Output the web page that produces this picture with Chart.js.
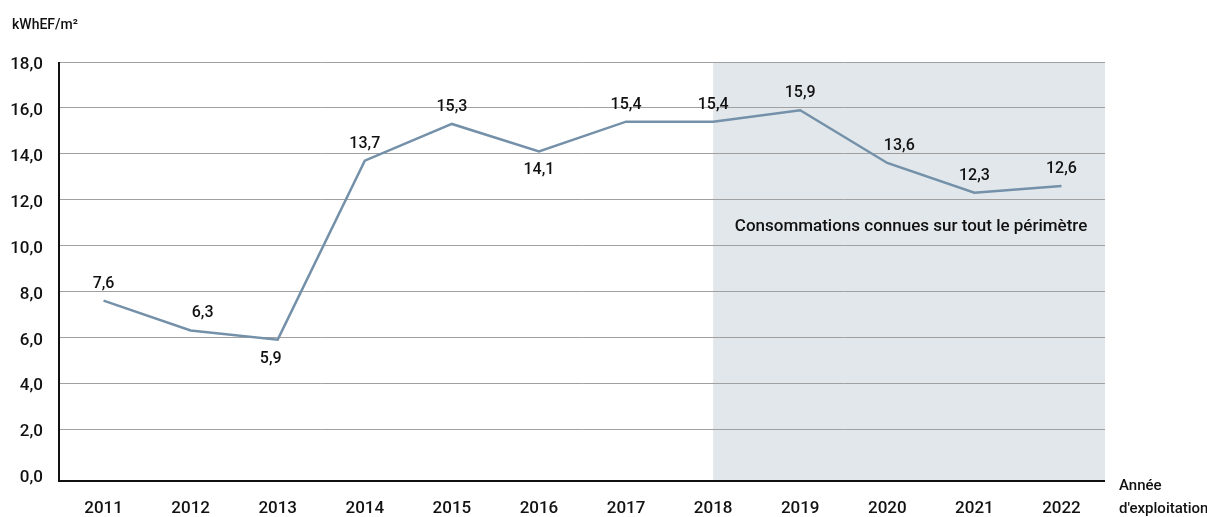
<!DOCTYPE html>
<html>
<head>
<meta charset="utf-8">
<script src="https://cdn.jsdelivr.net/npm/chart.js@4/dist/chart.umd.min.js"></script>
<style>
  html, body { margin: 0; padding: 0; background: #fff; }
  #wrap { width: 1207px; height: 517px; }
</style>
</head>
<body>
<div id="wrap"><canvas id="lineGraph"></canvas></div>
<script>
const years = ["2011", "2012", "2013", "2014", "2015", "2016", "2017", "2018", "2019", "2020", "2021", "2022"];
const consumption = [7.6, 6.3, 5.9, 13.7, 15.3, 14.1, 15.4, 15.4, 15.9, 13.6, 12.3, 12.6];
// these labels sit under the point
const labelBelow = ["2013", "2016"];
const shadeFrom = "2018";
const shadeText = "Consommations connues sur tout le périmètre";

const FONT = 'Roboto, "Liberation Sans", sans-serif';
const fmt = (v) => v.toFixed(1).replace(".", ",");

// little sideways nudges so labels clear the line
const nudge = { "2012": 12, "2013": -7, "2020": 12 };

const shadePlugin = {
  id: "shade",
  beforeDraw(chart) {
    const { ctx, chartArea, scales } = chart;
    const x0 = scales.x.getPixelForValue(years.indexOf(shadeFrom));
    const axisY = chartArea.bottom + 6;
    ctx.save();
    ctx.fillStyle = "#e1e7eb";
    ctx.fillRect(x0, chartArea.top, chartArea.right - x0, axisY - chartArea.top);
    ctx.fillStyle = "#111";
    ctx.font = "500 17px " + FONT;
    ctx.textAlign = "center";
    ctx.textBaseline = "middle";
    ctx.fillText(shadeText, (x0 + chartArea.right) / 2 + 2, scales.y.getPixelForValue(10.8));
    // unit and axis title
    ctx.font = "500 14px " + FONT;
    ctx.textAlign = "left";
    ctx.fillText("kWhEF/m²", 12, 25);
    ctx.font = "500 15px " + FONT;
    ctx.fillText("Année", 1119, 486);
    ctx.fillText("d'exploitation", 1119, 509);
    ctx.restore();
  },
  afterDatasetsDraw(chart) {
    // axis lines: the bottom one sits a few px under zero
    const { ctx, chartArea } = chart;
    const axisY = chartArea.bottom + 6;
    ctx.save();
    ctx.strokeStyle = "#111";
    ctx.lineWidth = 2;
    ctx.beginPath();
    ctx.moveTo(chartArea.left - 1, chartArea.top);
    ctx.lineTo(chartArea.left - 1, axisY);
    ctx.lineTo(chartArea.right, axisY);
    ctx.stroke();
    ctx.restore();
  },
};

const labelPlugin = {
  id: "pointLabels",
  afterDatasetsDraw(chart) {
    const { ctx } = chart;
    const meta = chart.getDatasetMeta(0);
    ctx.save();
    ctx.fillStyle = "#111";
    ctx.font = "500 16px " + FONT;
    ctx.textAlign = "center";
    ctx.textBaseline = "middle";
    meta.data.forEach((pt, i) => {
      const below = labelBelow.includes(years[i]);
      const dx = nudge[years[i]] || 0;
      ctx.fillText(fmt(consumption[i]), pt.x + dx, below ? pt.y + 19 : pt.y - 17);
    });
    ctx.restore();
  },
};

const lineGraph = document.getElementById("lineGraph").getContext("2d");
const myLineGraph = new Chart(lineGraph, {
  type: "line",
  data: {
    labels: years,
    datasets: [
      {
        data: consumption,
        borderColor: "#7491a9",
        borderWidth: 2.5,
        pointRadius: 0,
        tension: 0,
      },
    ],
  },
  options: {
    animation: false,
    maintainAspectRatio: false,
    responsive: true,
    layout: {
      padding: { top: 62, right: 102, left: 0, bottom: 0 },
    },
    plugins: {
      legend: { display: false },
      tooltip: { enabled: false },
    },
    scales: {
      x: {
        offset: true,
        afterFit: (s) => { s.height = 42; },
        grid: { display: false, drawTicks: false },
        border: { display: false },
        ticks: {
          color: "#111",
          padding: 24,
          font: { family: FONT, size: 17, weight: "500" },
        },
      },
      y: {
        min: 0,
        max: 18,
        afterFit: (s) => { s.width = 60; },
        grid: {
          color: (c) => (c.tick && c.tick.value === 0 ? "rgba(0,0,0,0)" : "#a0a0a0"),
          lineWidth: 1,
          drawTicks: false,
        },
        border: { display: false },
        ticks: {
          stepSize: 2,
          color: "#111",
          padding: 17,
          labelOffset: 3,
          callback: (v) => fmt(v),
          font: { family: FONT, size: 17, weight: "500" },
        },
      },
    },
  },
  plugins: [shadePlugin, labelPlugin],
});
</script>
</body>
</html>
